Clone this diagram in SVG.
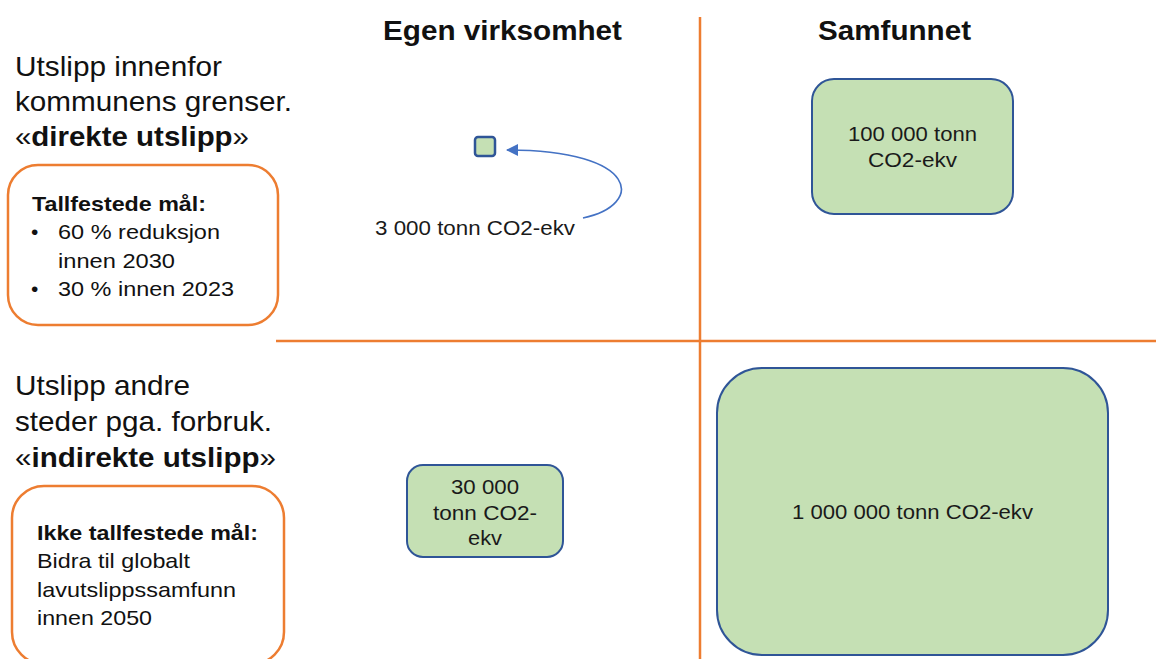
<svg xmlns="http://www.w3.org/2000/svg" width="1156" height="659" viewBox="0 0 1156 659">
<style>
text{font-family:"Liberation Sans",Arial,sans-serif;fill:#111;}
.hdr{font-size:28px;font-weight:bold;}
.big{font-size:28px;}
.b{font-weight:bold;}
.goal{font-size:21px;}
.val{font-size:20.5px;fill:#1a1a1a;}
.grid{stroke:#ED7D31;stroke-width:2.5;fill:none;}
.obox{fill:#fff;stroke:#ED7D31;stroke-width:2.5;}
.gbox{fill:#C5E0B4;stroke:#2F5597;stroke-width:2;}
.conn{stroke:#4472C4;stroke-width:1.6;fill:none;}
</style>
<defs>
<marker id="ah" markerUnits="userSpaceOnUse" markerWidth="14" markerHeight="12" refX="11" refY="6" orient="auto">
<path d="M0,0 L12,6 L0,12 Z" fill="#4472C4"/>
</marker>
</defs>
<g id="grid">
<line class="grid" x1="700" y1="17" x2="700" y2="659"/>
<line class="grid" x1="276" y1="341" x2="1156" y2="341"/>
</g>
<g id="headers">
<text class="hdr" x="383" y="40" textLength="239" lengthAdjust="spacingAndGlyphs">Egen virksomhet</text>
<text class="hdr" x="818" y="40" textLength="153" lengthAdjust="spacingAndGlyphs">Samfunnet</text>
</g>
<g id="direct-label">
<text class="big" x="15" y="76" textLength="207" lengthAdjust="spacingAndGlyphs">Utslipp innenfor</text>
<text class="big" x="15" y="111" textLength="277" lengthAdjust="spacingAndGlyphs">kommunens grenser.</text>
<text class="big" x="15" y="146" textLength="234" lengthAdjust="spacingAndGlyphs">«<tspan class="b">direkte utslipp</tspan>»</text>
</g>
<g id="direct-goals">
<rect class="obox" x="8" y="165" width="270" height="160" rx="30"/>
<text class="goal b" x="32" y="211" textLength="174" lengthAdjust="spacingAndGlyphs">Tallfestede mål:</text>
<text class="goal" x="31" y="239">•</text>
<text class="goal" x="58" y="239" textLength="162" lengthAdjust="spacingAndGlyphs">60 % reduksjon</text>
<text class="goal" x="58" y="268" textLength="117" lengthAdjust="spacingAndGlyphs">innen 2030</text>
<text class="goal" x="31" y="296">•</text>
<text class="goal" x="58" y="296" textLength="176" lengthAdjust="spacingAndGlyphs">30 % innen 2023</text>
</g>
<g id="indirect-label">
<text class="big" x="15" y="395" textLength="175" lengthAdjust="spacingAndGlyphs">Utslipp andre</text>
<text class="big" x="15" y="431" textLength="257" lengthAdjust="spacingAndGlyphs">steder pga. forbruk.</text>
<text class="big" x="15" y="467" textLength="261" lengthAdjust="spacingAndGlyphs">«<tspan class="b">indirekte utslipp</tspan>»</text>
</g>
<g id="indirect-goals">
<rect class="obox" x="12" y="486" width="272" height="178" rx="32"/>
<text class="goal b" x="37" y="540" textLength="221" lengthAdjust="spacingAndGlyphs">Ikke tallfestede mål:</text>
<text class="goal" x="37" y="568" textLength="153" lengthAdjust="spacingAndGlyphs">Bidra til globalt</text>
<text class="goal" x="37" y="597" textLength="199" lengthAdjust="spacingAndGlyphs">lavutslippssamfunn</text>
<text class="goal" x="37" y="625" textLength="115" lengthAdjust="spacingAndGlyphs">innen 2050</text>
</g>
<g id="own-direct">
<rect class="gbox" x="475" y="137" width="20" height="19" rx="3" style="stroke-width:2.5"/>
</g>
<g id="own-direct-label">
<text class="val" x="375" y="235" textLength="200" lengthAdjust="spacingAndGlyphs">3 000 tonn CO2-ekv</text>
</g>
<g id="society-direct">
<rect class="gbox" x="812" y="79" width="201" height="135" rx="22"/>
<text class="val" x="912.5" y="141" text-anchor="middle" textLength="129" lengthAdjust="spacingAndGlyphs">100 000 tonn</text>
<text class="val" x="912.5" y="167" text-anchor="middle" textLength="89" lengthAdjust="spacingAndGlyphs">CO2-ekv</text>
</g>
<g id="own-indirect">
<rect class="gbox" x="407" y="465" width="156" height="92" rx="16"/>
<text class="val" x="485" y="494" text-anchor="middle" textLength="68" lengthAdjust="spacingAndGlyphs">30 000</text>
<text class="val" x="485" y="520" text-anchor="middle" textLength="104" lengthAdjust="spacingAndGlyphs">tonn CO2-</text>
<text class="val" x="485" y="545" text-anchor="middle" textLength="34" lengthAdjust="spacingAndGlyphs">ekv</text>
</g>
<g id="society-indirect">
<rect class="gbox" x="717" y="368" width="391" height="287" rx="45"/>
<text class="val" x="912.5" y="519" text-anchor="middle" textLength="241" lengthAdjust="spacingAndGlyphs">1 000 000 tonn CO2-ekv</text>
</g>
<g id="connectors">
<path class="conn" d="M583,218 C645,205 640,150 507,150" marker-end="url(#ah)"/>
</g>
</svg>
